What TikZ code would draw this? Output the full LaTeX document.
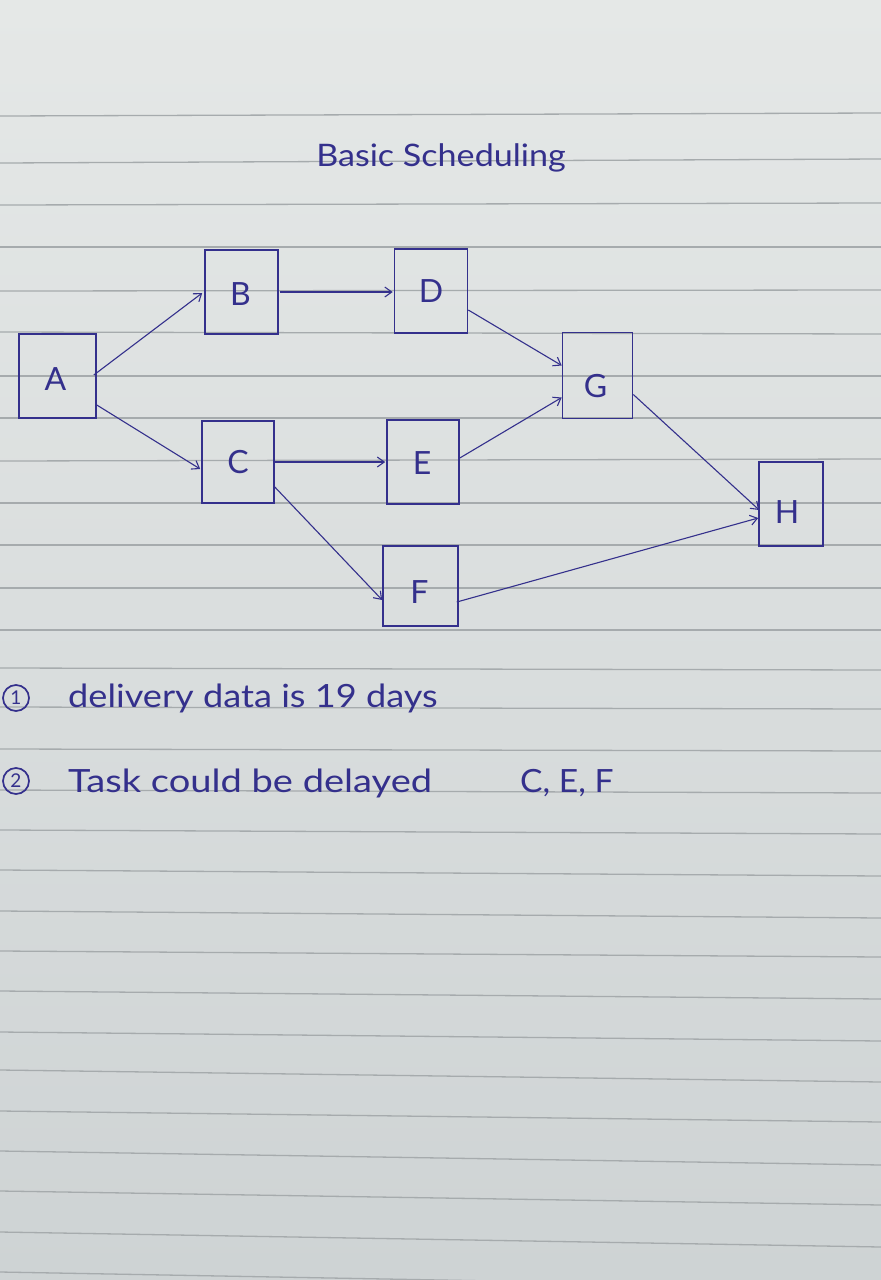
\documentclass[tikz,border=0pt]{standalone}
\usepackage{fontspec}
\usepackage{graphicx}
\setmainfont{Lato}
\usetikzlibrary{arrows.meta,calc}
\definecolor{ink}{RGB}{52,48,140}
\definecolor{paperT}{RGB}{229,232,231}
\definecolor{paperB}{RGB}{206,211,212}
\definecolor{rulecol}{RGB}{166,171,173}
\begin{document}
\begin{tikzpicture}[x=1pt,y=-1pt,
  box/.style={draw=ink,line width=1.6pt,inner sep=0pt},
  tlabel/.style={text=ink,inner sep=0pt,font=\fontsize{32}{32}\selectfont},
  conn/.style={draw=ink,line width=1.1pt,-{Straight Barb[length=7pt,width=10pt,line width=1.1pt]}},
  hand/.style={text=ink,inner sep=0pt,anchor=base west,font=\fontsize{32}{32}\selectfont},
  numtext/.style={inner sep=0pt,text=ink,font=\fontsize{19}{19}\selectfont},
  ring/.style={draw=ink,line width=1.7pt}]
\useasboundingbox (0,0) rectangle (881,1280);
\shade[top color=paperT,bottom color=paperB] (0,0) rectangle (881,1280);
% ruled lines (left y / right y)
\foreach \yl/\yr in {116/113,163/159,205/203,247/247,291/290,332/334,376/376,418/418,461/459,503/503,545/545,588/588,630/630,668/670,707/709,749/751,790/793,830/834,870/876,911/918,951/957,991/999,1032/1041,1070/1082,1111/1122,1151/1165,1191/1205,1232/1247,1272/1288}
  \draw[rulecol,line width=1.3pt] (0,\yl) -- (881,\yr);
% title
\node[text=ink,inner sep=0pt,anchor=base,font=\fontsize{31}{31}\selectfont] (title) at (441,166) {\scalebox{1.1}[1]{Basic Scheduling}};
% boxes
\node[box,minimum width=77pt,minimum height=84pt] (A) at (57.5,376) {};
\node[box,minimum width=73pt,minimum height=84pt] (B) at (241.5,292) {};
\node[box,minimum width=73pt,minimum height=84pt] (D) at (431,291) {};
\node[box,minimum width=72pt,minimum height=82pt] (C) at (238,462) {};
\node[box,minimum width=72pt,minimum height=84pt] (E) at (423,462) {};
\node[box,minimum width=70pt,minimum height=86pt] (G) at (597.5,375.5) {};
\node[box,minimum width=75pt,minimum height=80pt] (F) at (420.5,586) {};
\node[box,minimum width=64pt,minimum height=84pt] (H) at (791,504) {};
% labels
\node[tlabel] (Alab) at ($(A.center)+(-2,3)$) {A};
\node[tlabel] (Blab) at ($(B.center)+(-1,2)$) {B};
\node[tlabel] (Dlab) at ($(D.center)+(0,0)$) {D};
\node[tlabel] (Clab) at ($(C.center)+(0,0)$) {C};
\node[tlabel] (Elab) at ($(E.center)+(-1,1)$) {E};
\node[tlabel] (Glab) at ($(G.center)+(-2,11)$) {G};
\node[tlabel] (Flab) at ($(F.center)+(-1,6)$) {F};
\node[tlabel] (Hlab) at ($(H.center)+(-4,8)$) {H};
% connectors
\draw[conn] ($(A.east)+(-3,-1)$) -- ($(B.west)+(-2,1)$);
\draw[conn] ($(A.east)+(0,29)$) -- ($(C.west)+(-1,7)$);
\draw[conn] ($(B.east)+(1,0)$) -- ($(D.west)+(-1,1)$);
\draw[conn] ($(D.east)+(0,19)$) -- ($(G.west)+(0,-10)$);
\draw[conn] (C.east) -- ($(E.west)+(-1,0)$);
\draw[conn] ($(C.east)+(0,25)$) -- ($(F.west)+(0,14)$);
\draw[conn] ($(E.east)+(0,-4)$) -- ($(G.west)+(0,22)$);
\draw[conn] ($(G.east)+(0,19)$) -- ($(H.west)+(1,6)$);
\draw[conn] ($(F.east)+(-2,16)$) -- ($(H.west)+(0,14)$);
% notes
\node[numtext] (n1) at (16,698) {1};
\draw[ring] (n1.center) circle[radius=13];
\node[hand] (note1) at (68,707) {\scalebox{1.13}[1]{delivery data is 19 days}};
\node[numtext] (n2) at (16,781) {2};
\draw[ring] (n2.center) circle[radius=13];
\node[hand] (note2) at (68,792) {\scalebox{1.19}[1]{Task could be delayed}};
\node[hand] (note2b) at (520,792) {\scalebox{1.05}[1]{C, E, F}};
\end{tikzpicture}
\end{document}
